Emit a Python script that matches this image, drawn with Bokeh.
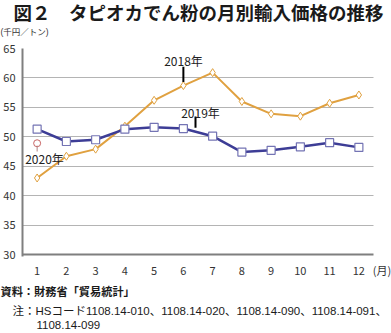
from bokeh.plotting import figure
from bokeh.models import Label, FixedTicker, Range1d, Grid, BoxAnnotation, Title
from bokeh.embed import file_html
from bokeh.resources import INLINE

months = list(range(1, 13))
y2018 = [43.0, 46.7, 47.9, 51.8, 56.2, 58.7, 60.9, 56.0, 53.9, 53.5, 55.7, 57.1]
y2019 = [51.3, 49.2, 49.5, 51.3, 51.6, 51.4, 50.1, 47.4, 47.7, 48.3, 49.0, 48.2]
y2020_month = [1]
y2020 = [48.9]
yticks = [30, 35, 40, 45, 50, 55, 60, 65]
unit_tick = 12.79
unit_label = "(月)"

title_text = "図２　タピオカでん粉の月別輸入価格の推移"
y_unit_text = "(千円／トン)"
source_text = "資料：財務省「貿易統計」"
note_text1 = "注：HSコード1108.14-010、1108.14-020、1108.14-090、1108.14-091、"
note_text2 = "1108.14-099"

FONT = "Noto Sans CJK JP"
FONT2 = "Liberation Sans, Noto Sans CJK JP"
W, H = 391, 333

# plot frame in page pixels
L, T, B = 22, 48, 256
PXM = (373 - 22) / 12.0          # pixels per month
PXV = (254 - 48) / 35.0          # pixels per unit value
X0 = 0.5
X1 = 0.5 + (W - L) / PXM
Y1 = 65
Y0 = 65 - (B - T) / PXV

def dx(px):
    return X0 + (px - L) / PXM

def dy(py):
    return Y1 - (py - T) / PXV

p = figure(width=W, height=H, output_backend="svg", toolbar_location=None,
           x_range=Range1d(X0, X1), y_range=Range1d(Y0, Y1),
           min_border_left=L, min_border_right=0, min_border_top=T,
           min_border_bottom=H - B)
p.outline_line_color = None
p.background_fill_color = "white"
p.border_fill_color = "white"

p.xaxis.ticker = FixedTicker(ticks=months + [unit_tick])
p.xaxis.major_label_overrides = {unit_tick: unit_label}
p.yaxis.ticker = FixedTicker(ticks=yticks)
for ax in (p.xaxis, p.yaxis):
    ax.axis_line_color = "#7f7f7f"
    ax.axis_line_width = 2
    ax.major_tick_line_color = None
    ax.minor_tick_line_color = None
    ax.major_tick_out = 0
    ax.minor_tick_out = 0
    ax.major_label_text_font = FONT
    ax.major_label_text_font_size = "11px"
    ax.major_label_text_color = "#333333"
p.xaxis.axis_line_color = None
p.yaxis.major_label_standoff = 7
p.xaxis.major_label_standoff = 5
p.xgrid.grid_line_color = None
p.ygrid.grid_line_color = "#b4b4b4"
p.ygrid.grid_line_width = 1
p.ygrid.ticker = FixedTicker(ticks=yticks[1:])
# bottom axis line drawn as a heavy grid line at the axis minimum
p.add_layout(Grid(dimension=1, ticker=FixedTicker(ticks=[yticks[0]]),
                  grid_line_color="#7f7f7f", grid_line_width=2))
# blank column right of the plotting region (holds the unit label)
p.add_layout(BoxAnnotation(left=12.5, fill_color="white", fill_alpha=1,
                           line_color=None))

orange = "#e0a140"
navy = "#3d3d96"

p.line(months, y2018, line_color=orange, line_width=2)
p.scatter(months, y2018, marker="diamond", size=8, fill_color="white",
          line_color=orange, line_width=1)
p.line(months, y2019, line_color=navy, line_width=2.5)
p.scatter(months, y2019, marker="square", size=8, fill_color="white",
          line_color="#7474b4", line_width=1.2)
p.scatter(y2020_month, y2020, marker="circle", size=7, fill_color="white",
          line_color="#c86464", line_width=1)

# leader lines
p.segment(x0=[6], y0=[y2018[5] + 0.6], x1=[6], y1=[y2018[5] + 3.2],
          line_color="black", line_width=2)
p.segment(x0=[dx(195)], y0=[dy(127.3)], x1=[dx(195)], y1=[dy(116)],
          line_color="black", line_width=2)
p.segment(x0=[1], y0=[y2020[0] - 0.4], x1=[1], y1=[dy(151)],
          line_color="#b08080", line_width=1)

def lab(text, px, py, size):
    p.add_layout(Label(x=dx(px), y=dy(py), text=text, text_font=FONT,
                       text_font_size=size, text_align="center",
                       text_baseline="middle", text_color="#222222"))

lab("2018年", 183, 59.5, "12px")
lab("2019年", 200, 112, "12px")
lab("2020年", 44, 157.5, "12px")

def title(text, side, offset, standoff, size, bold=False, color="#1a1a1a"):
    t = Title(text=text, align="left", offset=offset, standoff=standoff,
              text_font=FONT2, text_font_size=size, text_color=color,
              text_font_style="bold" if bold else "normal")
    p.add_layout(t, side)

# above: first added sits closest to the plot (a blank spacer first)
title(" ", "above", 0, 6, "2px")
title(y_unit_text, "above", -22, 3, "8.5px", color="#333333")
title(title_text, "above", -9, 0, "18.5px", bold=True)
# below: stacked under the x axis
title(source_text, "below", -22, 7, "11.2px", bold=True)
title(note_text1, "below", -10, 3, "11.5px")
title(note_text2, "below", 14, 1, "11.5px")

open("out.html", "w").write(file_html(p, INLINE))
